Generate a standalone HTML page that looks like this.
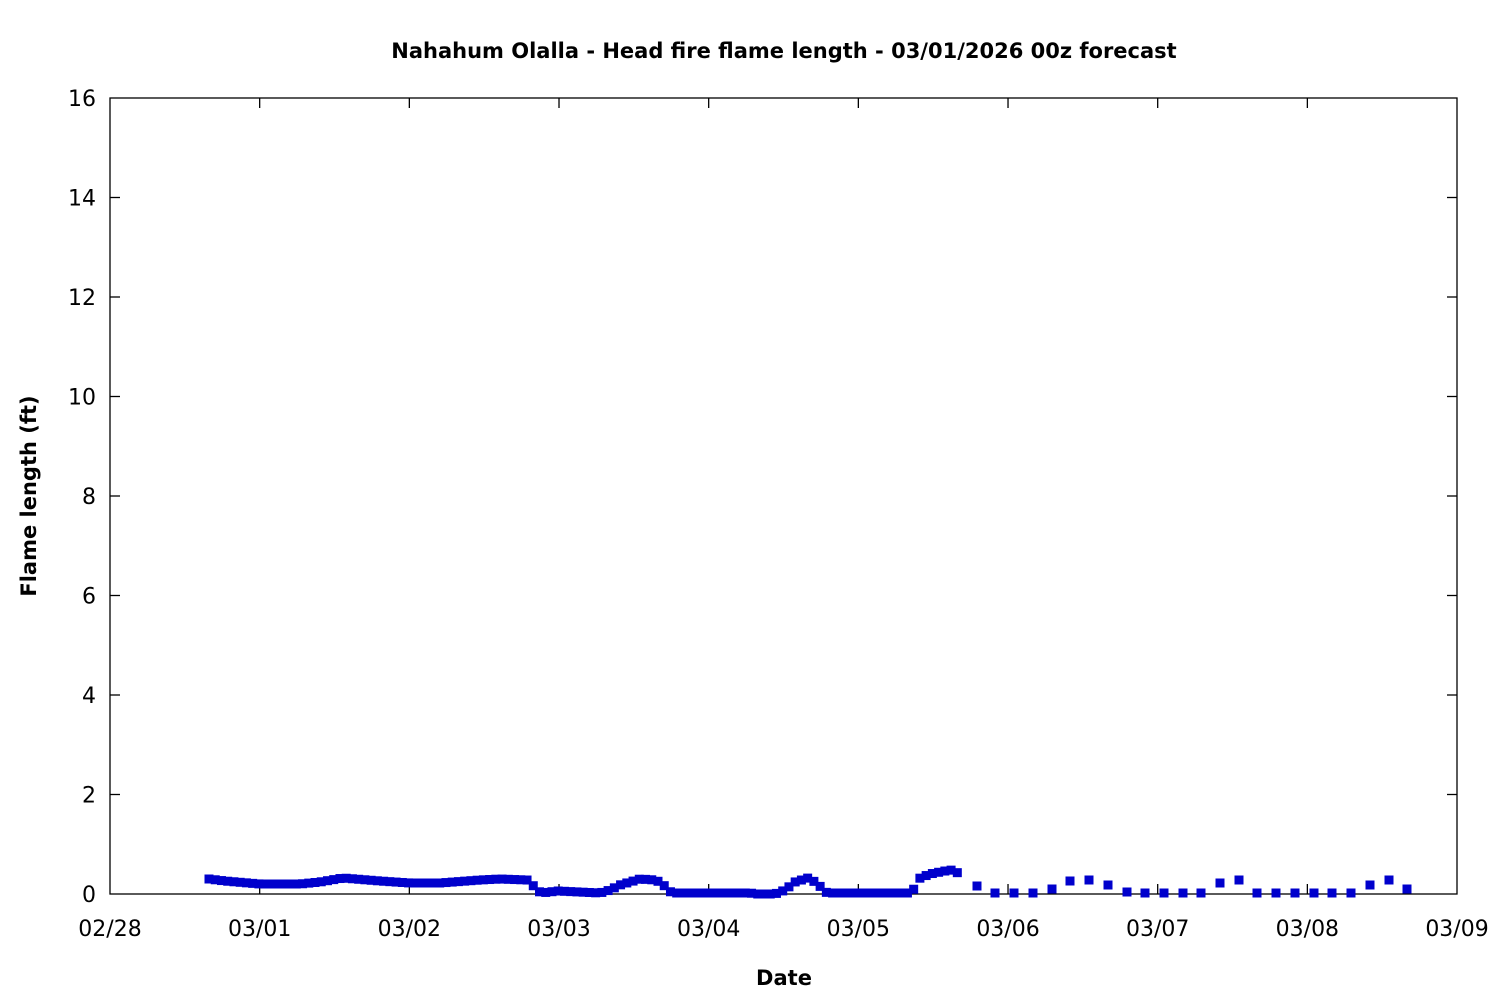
<!DOCTYPE html>
<html><head><meta charset="utf-8"><style>body{margin:0;background:#fff}svg{display:block}</style></head>
<body>
<svg id="s" width="1500" height="1000" xmlns="http://www.w3.org/2000/svg" font-family="DejaVu Sans, Liberation Sans, sans-serif">
<rect width="1500" height="1000" fill="#fff"/>
<text x="784" y="58" text-anchor="middle" font-size="21" font-weight="bold">Nahahum Olalla - Head fire flame length - 03/01/2026 00z forecast</text>
<text x="784" y="985" text-anchor="middle" font-size="21" font-weight="bold">Date</text>
<text transform="translate(36,496) rotate(-90)" text-anchor="middle" font-size="21" font-weight="bold">Flame length (ft)</text>
<g id="ax" stroke="#000" stroke-width="1.3" fill="none"><rect x="110" y="98" width="1347" height="796"/></g>
<g id="lab" font-size="22" fill="#000"></g>
<g id="pts" fill="#0000cc"></g>
</svg>
<script>
var ns="http://www.w3.org/2000/svg",ax=document.getElementById('ax'),lab=document.getElementById('lab'),pts=document.getElementById('pts');
function el(p,t,a,txt){var e=document.createElementNS(ns,t);for(var k in a)e.setAttribute(k,a[k]);if(txt)e.textContent=txt;p.appendChild(e);}
for(var i=0;i<=8;i++){var y=894-i*99.5;
 if(i>0&&i<8){el(ax,'line',{x1:110,y1:y,x2:120,y2:y});el(ax,'line',{x1:1447,y1:y,x2:1457,y2:y});}
 el(lab,'text',{x:96,y:y+8,'text-anchor':'end'},String(i*2));}
var d=['02/28','03/01','03/02','03/03','03/04','03/05','03/06','03/07','03/08','03/09'];
for(var j=0;j<10;j++){var x=110+j*149.67;
 if(j>0&&j<9){el(ax,'line',{x1:x,y1:894,x2:x,y2:884});el(ax,'line',{x1:x,y1:98,x2:x,y2:108});}
 el(lab,'text',{x:x,y:936,'text-anchor':'middle'},d[j]);}
var k=[[209,879],[225,881],[260,884],[300,884],[320,882],[343,878],[380,881],[410,883],[440,883],[480,880],[500,879],[527,880],[531,883],[536,889],[541,893],[558,891],[600,893],[610,890],[620,885],[640,879],[655,880],[662,883],[667,889],[672,893],[750,893],[757,894],[775,894],[785,890],[795,882],[808,878],[815,882],[822,888],[827,893],[908,893],[914,889],[920,878],[930,874],[945,871],[952,870],[958,873]];
function f(x){for(var i=0;i<k.length-1;i++){if(x<=k[i+1][0]){var t=(x-k[i][0])/(k[i+1][0]-k[i][0]);return k[i][1]+t*(k[i+1][1]-k[i][1]);}}return k[k.length-1][1];}
for(var x=209;x<=959;x+=6.236){el(pts,'rect',{x:x-4.5,y:f(x)-4.5,width:9,height:9});}
var s=[[977,886],[995,893],[1014,893],[1033,893],[1052,889],[1070,881],[1089,880],[1108,885],[1127,892],[1145,893],[1164,893],[1183,893],[1201,893],[1220,883],[1239,880],[1257,893],[1276,893],[1295,893],[1314,893],[1332,893],[1351,893],[1370,885],[1389,880],[1407,889]];
s.forEach(function(p){el(pts,'rect',{x:p[0]-4.5,y:p[1]-4.5,width:9,height:9});});
</script>
</body></html>
